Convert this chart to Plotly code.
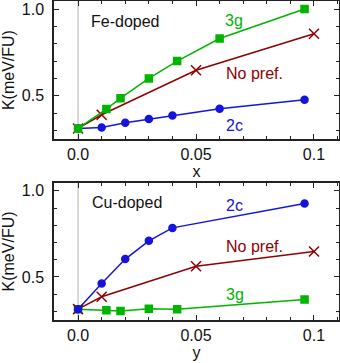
import plotly.graph_objects as go
from plotly.subplots import make_subplots

# Fe-doped (top panel)
fe_3g_x = [0.0, 0.012, 0.018, 0.030, 0.042, 0.060, 0.096]
fe_3g_y = [0.311, 0.423, 0.486, 0.600, 0.700, 0.830, 1.000]
fe_np_x = [0.0, 0.010, 0.050, 0.100]
fe_np_y = [0.311, 0.390, 0.647, 0.857]
fe_2c_x = [0.0, 0.010, 0.020, 0.030, 0.040, 0.060, 0.096]
fe_2c_y = [0.311, 0.317, 0.344, 0.365, 0.386, 0.425, 0.477]

# Cu-doped (bottom panel)
cu_2c_x = [0.0, 0.010, 0.020, 0.030, 0.040, 0.096]
cu_2c_y = [0.313, 0.462, 0.604, 0.710, 0.785, 0.927]
cu_np_x = [0.0, 0.010, 0.050, 0.100]
cu_np_y = [0.313, 0.385, 0.562, 0.648]
cu_3g_x = [0.0, 0.012, 0.018, 0.030, 0.042, 0.096]
cu_3g_y = [0.313, 0.306, 0.302, 0.315, 0.313, 0.369]

xtick_vals = [0.0, 0.05, 0.1]
xtick_text = ["0.0", "0.05", "0.1"]
ytick_vals = [0.5, 1.0]
ytick_text = ["0.5", "1.0"]

GREEN = "#00b400"
BLUE = "#1414dc"
RED = "#900000"
FONT = "Liberation Sans"

fig = make_subplots(rows=2, cols=1)

def add(x, y, color, symbol, size, row):
    fig.add_trace(go.Scatter(
        x=x, y=y, mode="lines+markers",
        line=dict(color=color, width=1.5),
        marker=dict(color=color, symbol=symbol, size=size,
                    line=dict(color=color, width=1.5)),
        showlegend=False), row=row, col=1)

for row in (1, 2):
    fig.add_trace(go.Scatter(x=[0, 0], y=[0.25, 1.05], mode="lines",
                             line=dict(color="#cccccc", width=1.5),
                             showlegend=False, hoverinfo="skip"), row=row, col=1)

add(fe_2c_x, fe_2c_y, BLUE, "circle", 7, 1)
add(fe_np_x, fe_np_y, RED, "x-thin", 10, 1)
add(fe_3g_x, fe_3g_y, GREEN, "square", 7, 1)

add(cu_3g_x, cu_3g_y, GREEN, "square", 7, 2)
add(cu_np_x, cu_np_y, RED, "x-thin", 10, 2)
add(cu_2c_x, cu_2c_y, BLUE, "circle", 7, 2)

axis_common = dict(showgrid=False, zeroline=False, showline=True, automargin=False,
                   linecolor="#222222", linewidth=1.5, mirror="ticks",
                   ticks="inside", ticklen=5, tickcolor="#222222",
                   tickwidth=1, tickfont=dict(family=FONT, size=16, color="#111111"))

for row, xt, dom in ((1, "x", [0.617, 0.997]), (2, "y", [0.1185, 0.496])):
    fig.update_xaxes(range=[-0.0102, 0.1106], tickvals=xtick_vals, ticktext=xtick_text,
                     minor=dict(dtick=0.01, tick0=0, ticks="inside", ticklen=3,
                                tickcolor="#222222", tickwidth=1),
                     ticklabelstandoff=0,
                     title=dict(text=xt, font=dict(family=FONT, size=16, color="#111111"),
                                standoff=0),
                     row=row, col=1, **axis_common)
    fig.update_yaxes(range=[0.25, 1.046], tickvals=ytick_vals, ticktext=ytick_text,
                     minor=dict(dtick=0.1, tick0=0, ticks="inside", ticklen=3,
                                tickcolor="#222222", tickwidth=1),
                     ticklabelstandoff=5,
                     title=dict(text="K(meV/FU)", font=dict(family=FONT, size=16, color="#111111"),
                                standoff=8),
                     domain=dom, row=row, col=1, **axis_common)

def ann(text, x, y, color, xref, yref):
    fig.add_annotation(text=text, x=x, y=y, xref=xref, yref=yref, showarrow=False,
                       font=dict(family=FONT, size=16, color=color))

ann("Fe-doped", 0.0202, 0.929, "#111111", "x", "y")
ann("3g", 0.066, 0.932, GREEN, "x", "y")
ann("No pref.", 0.0746, 0.629, RED, "x", "y")
ann("2c", 0.0665, 0.330, BLUE, "x", "y")

ann("Cu-doped", 0.0208, 0.93, "#111111", "x2", "y2")
ann("2c", 0.0665, 0.917, BLUE, "x2", "y2")
ann("No pref.", 0.0746, 0.677, RED, "x2", "y2")
ann("3g", 0.0665, 0.398, GREEN, "x2", "y2")

fig.update_layout(width=340, height=363, margin=dict(l=54, r=1, t=0, b=0),
                  plot_bgcolor="white", paper_bgcolor="white",
                  font=dict(family=FONT))

fig.write_html("out.html", config={"displayModeBar": False},
               post_script="document.body.style.margin='0';document.body.style.padding='0';")
